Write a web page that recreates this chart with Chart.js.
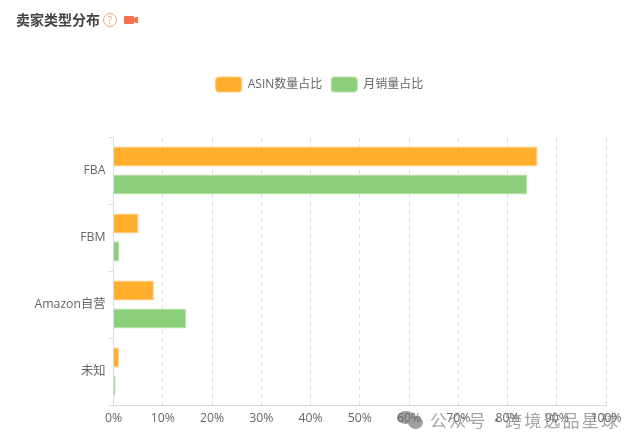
<!DOCTYPE html>
<html>
<head>
<meta charset="utf-8">
<script src="https://cdn.jsdelivr.net/npm/chart.js@4"></script>
<style>
  body { margin: 0; background: #fff; }
  #wrap { position: relative; width: 639px; height: 447px; overflow: hidden; font-family: "Open Sans", "Noto Sans CJK SC", sans-serif; }
  #sellerChart { position: relative; display: block; }
  #title { position: absolute; left: 16px; top: 10px; font-size: 14px; line-height: 20px; font-weight: bold; color: #444; }
  #help { position: absolute; left: 103px; top: 13px; width: 12px; height: 12px; border: 1px solid #f2a468; border-radius: 50%; font-size: 10px; line-height: 12px; text-align: center; color: #f2a468; }
  #cam { position: absolute; left: 124px; top: 16px; width: 10px; height: 8px; background: #f4704e; border-radius: 1px; }
  #lens { position: absolute; left: 134px; top: 17px; width: 4px; height: 6px; background: #f4704e; border-radius: 2px 0 0 2px; }
  .blob { position: absolute; border-radius: 50%; background: #a0a0a0; }
  .mark { position: absolute; top: 408px; font-size: 17px; line-height: 24px; color: rgba(110,110,110,0.62); letter-spacing: 2.2px; white-space: nowrap; font-family: "Noto Sans CJK SC", sans-serif; }
</style>
</head>
<body>
<div id="wrap">
  <div class="blob" style="left:397px;top:411px;width:18px;height:13px"></div>
  <div class="blob" style="left:408px;top:416px;width:15px;height:13px"></div>
  <canvas id="sellerChart" width="639" height="447"></canvas>
  <div id="title">卖家类型分布</div>
  <div id="help">?</div>
  <div id="cam"></div><div id="lens"></div>
  <div class="mark" style="left:430px">公众号</div>
  <div class="mark" style="left:488px">·</div>
  <div class="mark" style="left:505px">跨境选品星球</div>
</div>
<script>
const categories = ['FBA', 'FBM', 'Amazon自营', '未知'];
const asinShare = [86.1, 5.1, 8.2, 1.1];
const salesShare = [84, 1.2, 14.8, 0.4];
const xTicks = [0, 10, 20, 30, 40, 50, 60, 70, 80, 90, 100];

const fontFamily = '"Open Sans", "Noto Sans CJK SC", sans-serif';

// Leaves the gap between the legend and the plot
const legendGap = {
  id: 'legendGap',
  beforeInit(chart) {
    const fit = chart.legend.fit;
    chart.legend.fit = function() {
      fit.call(this);
      this.height += 35;
    };
  }
};

const ctx = document.getElementById('sellerChart').getContext('2d');

new Chart(ctx, {
  type: 'bar',
  plugins: [legendGap],
  data: {
    labels: categories,
    datasets: [
      { label: 'ASIN数量占比', data: asinShare, backgroundColor: '#ffae2e', borderColor: '#ffcb7c', borderWidth: 1 },
      { label: '月销量占比', data: salesShare, backgroundColor: '#8ccf7a', borderColor: '#b2e0a6', borderWidth: 1 }
    ]
  },
  options: {
    indexAxis: 'y',
    responsive: false,
    animation: false,
    categoryPercentage: 0.836,
    barPercentage: 0.72,
    layout: { padding: { top: 68, right: 33, bottom: 0, left: 33 } },
    plugins: {
      tooltip: { enabled: false },
      legend: {
        position: 'top',
        labels: {
          boxWidth: 26,
          boxHeight: 15,
          useBorderRadius: true,
          borderRadius: 3,
          padding: 9,
          color: '#666',
          font: { size: 12, family: fontFamily }
        }
      }
    },
    scales: {
      x: {
        min: 0,
        max: 100,
        afterBuildTicks: function(axis) {
          axis.ticks = xTicks.map(v => ({ value: v }));
        },
        afterFit: function(axis) {
          axis.height = 42;
        },
        ticks: {
          color: '#666',
          maxRotation: 0,
          padding: 6,
          font: { size: 12.25, family: fontFamily },
          callback: v => v + '%'
        },
        grid: { color: '#e0e1e6', drawTicks: false },
        border: { dash: [5, 3], color: '#d9dae2' }
      },
      y: {
        afterFit: function(axis) {
          axis.width = 80.5;
        },
        ticks: { color: '#666', padding: 3, font: { size: 12.25, family: fontFamily } },
        grid: { drawOnChartArea: false, color: '#d9dae2', tickLength: 5 },
        border: { color: '#d9dae2' }
      }
    }
  }
});
</script>
</body>
</html>
